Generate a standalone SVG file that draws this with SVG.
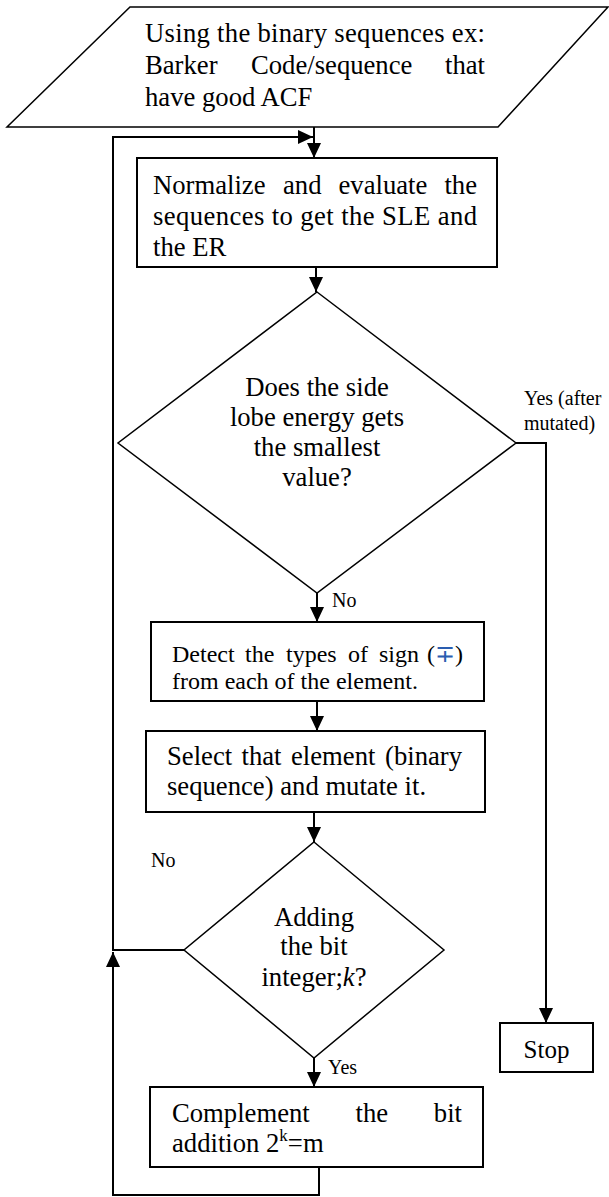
<svg xmlns="http://www.w3.org/2000/svg" width="609" height="1197" viewBox="0 0 609 1197">
<style>
.shape{fill:#fff;stroke:#000;stroke-width:1.5}
.box{fill:#fff;stroke:#000;stroke-width:2}
.conn{fill:none;stroke:#000;stroke-width:2}
text{font-family:"Liberation Serif","Times New Roman",serif;fill:#000}
.t{font-size:26.67px}
.s{font-size:24px}
.l{font-size:20px}
.c{text-anchor:middle}
.e{text-anchor:end}
</style>
<defs>
<marker id="arr" markerUnits="userSpaceOnUse" markerWidth="15" markerHeight="14" refX="15" refY="7" orient="auto">
<path d="M0,0 L15,7 L0,14 z" fill="#000"/>
</marker>
</defs>
<rect width="609" height="1197" fill="#fff"/>
<g id="connectors">
<line class="conn" x1="314" y1="127" x2="314" y2="158" marker-end="url(#arr)"/>
<polyline class="conn" points="184,950 113,950 113,137 313,137" marker-end="url(#arr)"/>
<polyline class="conn" points="319,1167 319,1195 113,1195 113,952" marker-end="url(#arr)"/>
<line class="conn" x1="316" y1="267" x2="316" y2="292" marker-end="url(#arr)"/>
<line class="conn" x1="317" y1="593" x2="317" y2="622" marker-end="url(#arr)"/>
<line class="conn" x1="317" y1="701" x2="317" y2="731" marker-end="url(#arr)"/>
<line class="conn" x1="314" y1="812" x2="314" y2="842" marker-end="url(#arr)"/>
<line class="conn" x1="314" y1="1058" x2="314" y2="1087" marker-end="url(#arr)"/>
<polyline class="conn" points="516,443 546,443 546,1023" marker-end="url(#arr)"/>
<text class="l" x="524" y="405">Yes (after</text>
<text class="l" x="524" y="430">mutated)</text>
<text class="l" x="332" y="607">No</text>
<text class="l" x="151" y="867">No</text>
<text class="l" x="328" y="1074">Yes</text>
</g>
<g id="input">
<polygon class="shape" points="130,7 608,7 498,127 7,127"/>
<text class="t" x="145" y="42" textLength="340" lengthAdjust="spacing">Using the binary sequences ex:</text>
<text class="t" y="74"><tspan x="145">Barker</tspan><tspan x="251">Code/sequence</tspan><tspan x="485" class="e">that</tspan></text>
<text class="t" x="145" y="106">have good ACF</text>
</g>
<g id="normalize">
<rect class="box" x="137" y="158" width="360" height="109"/>
<text class="t" y="194"><tspan x="153">Normalize</tspan><tspan x="283">and</tspan><tspan x="338.5">evaluate</tspan><tspan x="477" class="e">the</tspan></text>
<text class="t" x="153" y="225" textLength="324" lengthAdjust="spacing">sequences to get the SLE and</text>
<text class="t" x="153" y="256">the ER</text>
</g>
<g id="decision1">
<polygon class="shape" points="317,292 516,443 317,593 118,443"/>
<text class="t c" x="317" y="396">Does the side</text>
<text class="t c" x="317" y="426">lobe energy gets</text>
<text class="t c" x="317" y="456">the smallest</text>
<text class="t c" x="317" y="486">value?</text>
</g>
<g id="detect">
<rect class="box" x="151" y="622" width="333" height="79"/>
<text class="s" y="662"><tspan x="172">Detect</tspan><tspan x="245">the</tspan><tspan x="286">types</tspan><tspan x="348">of</tspan><tspan x="379">sign</tspan><tspan x="463" class="e">(<tspan fill="#2a5db0">∓</tspan>)</tspan></text>
<text class="s" x="172" y="689">from each of the element.</text>
</g>
<g id="mutate">
<rect class="box" x="146" y="731" width="339" height="81"/>
<text class="t" y="765"><tspan x="167">Select</tspan><tspan x="241.5">that</tspan><tspan x="291">element</tspan><tspan x="462" class="e">(binary</tspan></text>
<text class="t" x="167" y="795">sequence) and mutate it.</text>
</g>
<g id="decision2">
<polygon class="shape" points="314,842 444,950 314,1058 184,950"/>
<text class="t c" x="314" y="926">Adding</text>
<text class="t c" x="314" y="955">the bit</text>
<text class="t c" x="314" y="986">integer;<tspan font-style="italic">k</tspan>?</text>
</g>
<g id="complement">
<rect class="box" x="150" y="1087" width="333" height="80"/>
<text class="t" y="1122"><tspan x="172">Complement</tspan><tspan x="355.5">the</tspan><tspan x="462" class="e">bit</tspan></text>
<text class="t" x="172" y="1152">addition 2<tspan font-size="17" dy="-11">k</tspan><tspan dy="11">=m</tspan></text>
</g>
<g id="stop">
<rect class="box" x="500" y="1023" width="93" height="49"/>
<text class="c" x="546.5" y="1058" font-size="25">Stop</text>
</g>
</svg>
